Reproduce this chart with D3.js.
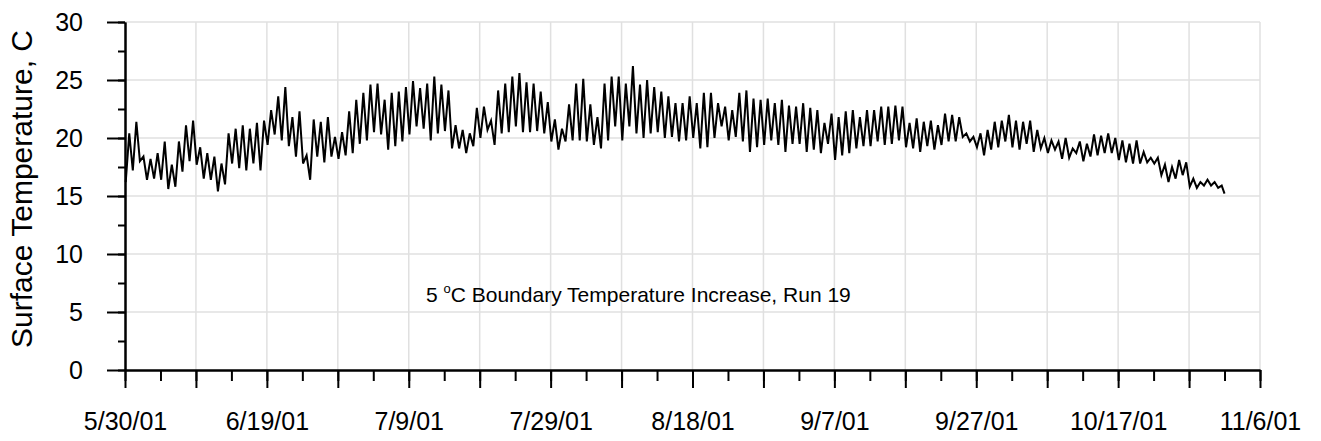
<!DOCTYPE html>
<html><head><meta charset="utf-8">
<script src="https://cdn.jsdelivr.net/npm/d3@7"></script>
<style>
body{margin:0;background:#fff}
svg{display:block}
text{font-family:"Liberation Sans",Arial,sans-serif;fill:#000}
</style>
</head><body>
<svg id="chart" width="1321" height="441"></svg>
<script>
// ---------------- DATA ----------------
const startDate = "2001-05-30";
const endDate = "2001-11-06";
// daily minimum (early morning) surface temperature, C, from 5/30/01
const dailyLow = [
16.2,17.2,18.0,16.4,16.5,16.4,15.6,15.8,17.1,18.0,
17.7,16.5,16.4,15.4,16.0,17.8,17.4,17.2,17.8,17.2,
19.4,20.3,19.8,19.3,18.4,17.8,16.4,18.4,17.9,18.4,
18.2,18.5,18.7,19.5,19.8,20.5,20.3,19.0,19.3,19.7,
20.3,21.0,20.8,19.8,20.4,20.6,19.1,19.1,18.7,19.3,
20.0,20.7,19.4,20.4,20.5,21.0,20.5,20.5,20.6,20.4,
19.7,19.0,19.7,19.8,19.8,19.7,19.4,19.1,19.8,21.0,
19.8,21.0,20.4,20.0,20.4,20.5,20.0,20.1,19.7,19.8,
20.0,19.1,19.2,20.0,21.0,19.8,20.1,19.7,18.8,19.2,
19.4,19.8,19.4,18.8,19.5,19.5,18.8,19.0,18.7,19.5,
18.1,18.5,18.7,19.1,19.3,19.3,19.7,19.4,19.5,19.8,
19.2,19.1,18.8,19.3,19.0,19.4,19.7,19.7,20.1,19.7,
19.2,18.5,19.0,19.2,19.7,19.2,19.0,19.5,18.8,19.1,
18.7,19.0,18.2,18.3,18.7,18.0,18.4,18.5,18.7,18.7,
18.1,17.9,17.8,17.8,17.9,17.8,16.8,16.2,16.5,16.8,
15.8,15.7,15.9,15.9,15.7
];
// daily maximum (afternoon) surface temperature, C
const dailyHigh = [
20.4,21.4,18.4,18.2,18.7,19.7,17.7,19.7,21.1,21.5,
19.2,18.7,18.4,17.8,20.4,20.8,21.1,20.8,21.3,21.5,
22.4,23.6,24.4,21.8,22.3,18.5,21.6,21.4,21.8,20.1,
20.5,22.3,23.3,23.9,24.6,24.7,23.3,23.9,24.0,24.4,
24.9,24.3,24.7,25.3,24.6,24.1,21.1,20.7,20.4,22.6,
22.7,21.5,24.1,24.7,25.3,25.6,24.8,24.7,24.0,23.1,
21.6,20.8,22.9,24.7,25.1,22.9,21.8,24.7,25.3,25.3,
24.7,26.2,24.6,25.0,24.4,24.0,23.6,23.0,23.0,23.6,
23.0,23.9,23.9,23.0,22.7,22.4,23.9,24.1,23.4,23.3,
23.4,23.0,23.3,22.8,22.7,23.0,22.6,22.4,21.3,22.1,
21.8,22.3,22.4,21.8,22.4,22.4,22.7,22.7,22.8,22.7,
21.3,21.7,21.4,21.5,21.1,22.1,22.0,21.8,20.4,20.1,
20.4,20.7,21.4,21.5,22.0,21.5,21.4,21.5,20.7,20.0,
19.8,19.7,20.0,19.1,19.7,19.5,20.3,20.2,20.4,20.0,
19.8,19.5,19.8,18.8,18.3,18.3,17.7,17.5,18.1,17.9,
16.5,16.2,16.4,16.2,15.9
];
const finalTemp = 15.2;           // last reading, 155 days after start
const finalDay = 155;
const xTickLabels = ["5/30/01","6/19/01","7/9/01","7/29/01","8/18/01","9/7/01","9/27/01","10/17/01","11/6/01"];
const yTicks = [0,5,10,15,20,25,30];
const yTitle = "Surface Temperature, C";
const noteParts = ["5 ", "o", "C Boundary Temperature Increase, Run 19"];

// ---------------- CHART ----------------
const svg = d3.select("#chart");
const DAY = 864e5;
const t0 = new Date(startDate), t1 = new Date(endDate);
const x = d3.scaleUtc().domain([t0, t1]).range([125, 1260]);
const y = d3.scaleLinear().domain([0, 30]).range([370, 22]);
const atDay = d => new Date(t0.getTime() + d * DAY);
const nDays = Math.round((t1 - t0) / DAY);

// gridlines
const grid = svg.append("g").attr("stroke", "#e0e0e0").attr("stroke-width", 1.5);
grid.selectAll("line.h").data(yTicks.filter(v => v > 0)).join("line")
  .attr("x1", x.range()[0]).attr("x2", x.range()[1])
  .attr("y1", d => y(d)).attr("y2", d => y(d));
grid.selectAll("line.v").data(d3.range(10, nDays + 1, 10)).join("line")
  .attr("x1", d => x(atDay(d))).attr("x2", d => x(atDay(d)))
  .attr("y1", y.range()[1]).attr("y2", y.range()[0]);

// series
const pts = [];
dailyLow.forEach((lo, i) => {
  pts.push({t: atDay(i + 0.1), v: lo});
  pts.push({t: atDay(i + 0.6), v: dailyHigh[i]});
});
pts.push({t: atDay(finalDay), v: finalTemp});
svg.append("path").datum(pts)
  .attr("fill", "none").attr("stroke", "#000").attr("stroke-width", 2)
  .attr("stroke-linejoin", "miter")
  .attr("d", d3.line().x(d => x(d.t)).y(d => y(d.v)));

// y axis
const fs = 25;
const yMinor = svg.append("g").attr("transform", "translate(125,0)")
  .call(d3.axisLeft(y).tickValues(d3.range(0, 30.1, 2.5)).tickSize(7).tickSizeOuter(0).tickFormat(""));
const yMajor = svg.append("g").attr("transform", "translate(125,0)")
  .call(d3.axisLeft(y).tickValues(yTicks).tickSize(18).tickSizeOuter(0).tickPadding(24).tickFormat(d3.format("d")));
// x axis
const xMinor = svg.append("g").attr("transform", "translate(0,370)")
  .call(d3.axisBottom(x).tickValues(d3.range(0, nDays + 1, 5).map(atDay)).tickSize(11).tickSizeOuter(0).tickFormat(""));
const xMajor = svg.append("g").attr("transform", "translate(0,370)")
  .call(d3.axisBottom(x).tickValues(d3.range(0, nDays + 1, 10).map(atDay)).tickSize(18).tickSizeOuter(0).tickPadding(24)
    .tickFormat(d => {
      const k = Math.round((d - t0) / DAY);
      return k % 20 === 0 ? xTickLabels[k / 20] : "";
    }));
[yMinor, yMajor, xMinor, xMajor].forEach(g => {
  g.selectAll("path,line").attr("stroke", "#000").attr("stroke-width", 2);
  g.selectAll("text").attr("font-size", fs).attr("font-family", "Liberation Sans, Arial, sans-serif").attr("fill", "#000");
});

// y title
svg.append("text").attr("transform", "translate(32,189) rotate(-90)")
  .attr("text-anchor", "middle").attr("font-size", 30).text(yTitle);

// annotation
const note = svg.append("text").attr("x", 426).attr("y", 302).attr("font-size", 21);
note.append("tspan").text(noteParts[0]);
note.append("tspan").attr("font-size", 13).attr("dy", -9).text(noteParts[1]);
note.append("tspan").attr("dy", 9).text(noteParts[2]);
</script>
</body></html>
